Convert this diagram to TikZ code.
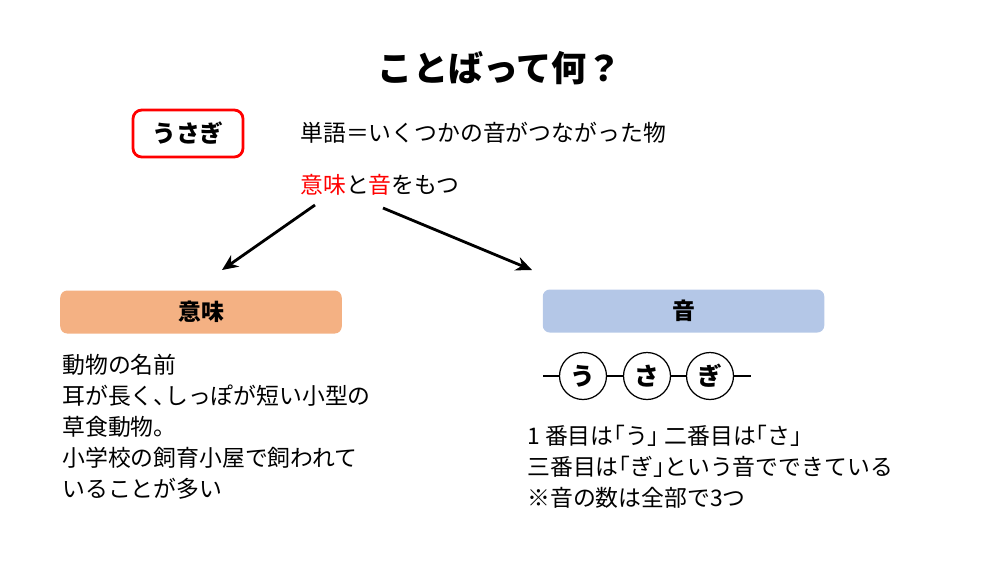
\documentclass[tikz,border=0pt]{standalone}
\usepackage{fontspec}
\setmainfont{Noto Sans CJK JP}
\newfontfamily\halffont{Noto Sans CJK JP}[RawFeature=+halt]
\usetikzlibrary{arrows, arrows.meta, positioning, shapes}
\definecolor{red}{rgb}{1, 0, 0}
\definecolor{imiorange}{HTML}{F4B183}
\definecolor{otoblue}{HTML}{B4C7E7}
\newcommand{\hw}[1]{{\halffont #1}}
\tikzstyle{word} = [draw=red,line width=1.6pt,rounded corners=5pt,minimum width=22mm,minimum height=9.4mm,font=\fontsize{13.5}{16}\selectfont\bfseries]
\tikzstyle{header} = [rounded corners=4pt,minimum width=56.3mm,minimum height=8.6mm,font=\fontsize{13}{15}\selectfont\bfseries]
\tikzstyle{body} = [inner sep=0pt,align=left,font=\fontsize{13}{17.6}\selectfont]
\tikzstyle{sound} = [circle,draw,fill=white,line width=0.7pt,minimum size=9.4mm,inner sep=0pt,font=\fontsize{14}{16}\selectfont\bfseries]
\tikzstyle{dist} = [line width=1.6pt,-{Stealth[length=3.2mm,width=2.8mm]}]

\begin{document}
\begin{tikzpicture}[x=0.2mm,y=-0.2mm]
  \useasboundingbox (0,0) rectangle (1000,563);
  \node (title) at (500,68) [font=\fontsize{20}{24}\selectfont\bfseries] {ことばって何？};
  \node (usagi) at (188,133.5) [word] {うさぎ};
  \node (def) at (300,133) [body,anchor=west] {単語＝いくつかの音がつながった物};
  \node (motsu) at (300,185) [body,anchor=west] {\textcolor{red}{意味}と\textcolor{red}{音}をもつ};
  \node (imi) at (201,312) [header,fill=imiorange] {意味};
  \node (oto) at (683.5,311) [header,fill=otoblue] {音};
  \coordinate (s1) at (315,205);
  \coordinate (e1) at (222,270);
  \coordinate (s2) at (383,208);
  \coordinate (e2) at (532,270);
  \draw [dist] (s1) -- (e1);
  \draw [dist] (s2) -- (e2);
  \node (imitext) at (62,354) [body,anchor=north west] {動物の名前\\耳が長く\hw{、}しっぽが短い小型の\\草食動物。\\小学校の飼育小屋で飼われて\\いることが多い};
  \coordinate (l0) at (543,376);
  \coordinate (l1) at (751,376);
  \node (c1) at (583,376) [sound] {う};
  \node (c2) at (647,376) [sound] {さ};
  \node (c3) at (710,376) [sound] {ぎ};
  \draw [line width=1.5pt] (l0) -- (c1) (c1) -- (c2) (c2) -- (c3) (c3) -- (l1);
  \node (ototext) at (527,425) [body,anchor=north west] {1 番目は\hw{「}う\hw{」} 二番目は\hw{「}さ\hw{」}\\三番目は\hw{「}ぎ\hw{」}という音でできている\\※音の数は全部で3つ};
\end{tikzpicture}
\end{document}
